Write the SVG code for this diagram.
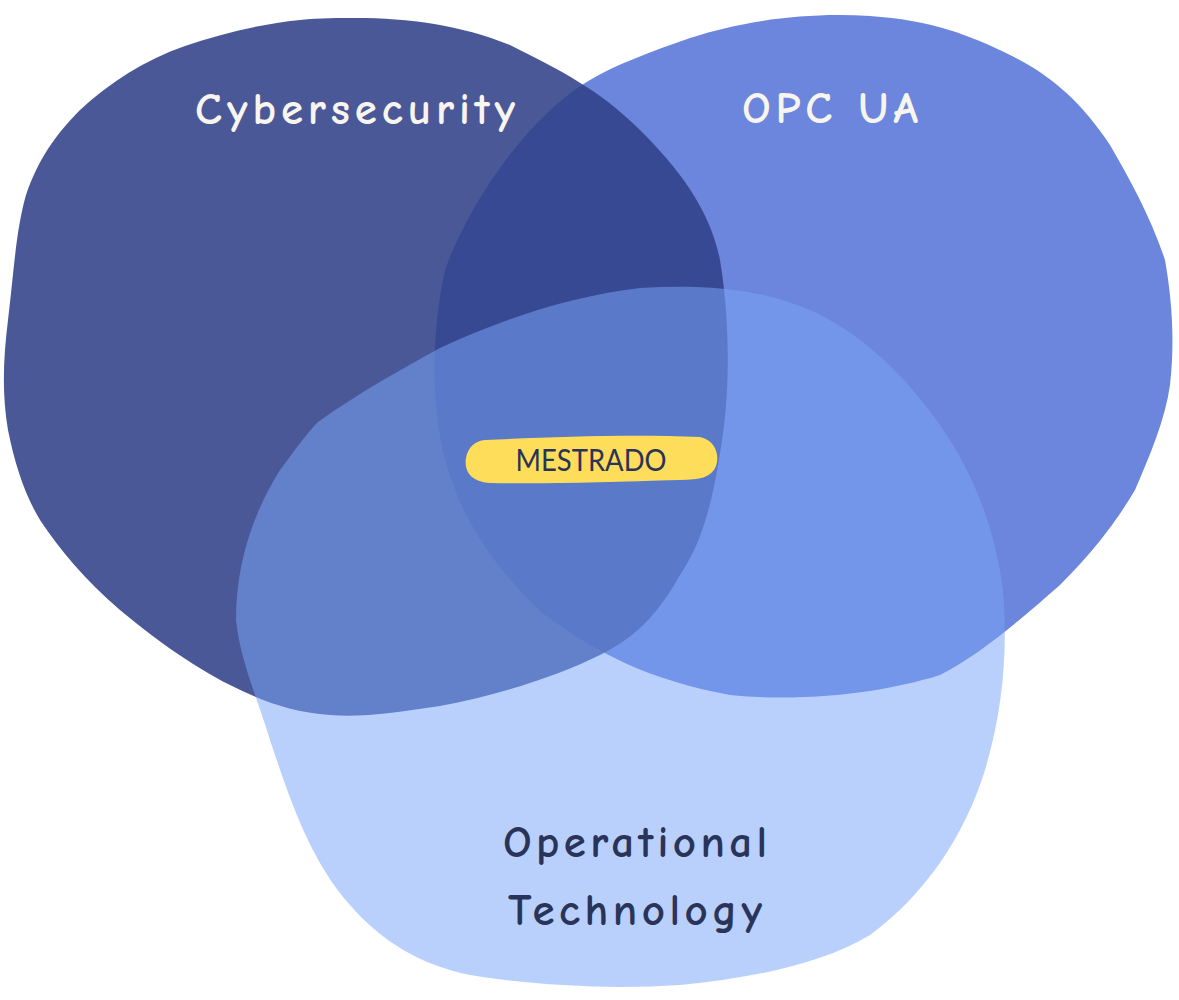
<svg xmlns="http://www.w3.org/2000/svg" width="1179" height="1000" viewBox="0 0 1179 1000">
<style>
.lbl{font-family:"Comic Neue","Noto Sans","DejaVu Sans",sans-serif;font-size:45px;font-weight:bold}
.light{fill:#f8f5ee}
.dark{fill:#2a3358}
.pill{font-family:"Lato","Noto Sans",sans-serif;font-size:30px;fill:#2a3358}
</style>
<rect width="1179" height="1000" fill="#ffffff"/>
<g id="opcua">
<path fill="#6b86dc" d="M590,80 C530,115 470,200 445,270 C432,330 430,400 445,460 C462,520 495,570 545,615 C600,655 650,680 730,695 C800,702 880,694 940,675 C980,655 1020,620 1060,585 C1100,545 1120,515 1135,490 C1150,455 1165,420 1170,385 C1175,340 1172,300 1165,260 C1150,215 1130,180 1110,145 C1080,100 1050,75 1010,55 C970,35 930,20 870,16 C800,12 740,22 690,38 C650,52 615,65 590,80 Z"/>
<text class="lbl light" x="830" y="123" text-anchor="middle" textLength="176" lengthAdjust="spacing">OPC UA</text>
</g>
<g id="cybersecurity">
<path fill="#31418a" fill-opacity="0.88" d="M355,18 C410,18 460,25 510,45 C560,70 600,90 640,130 C680,170 710,210 720,260 C730,320 730,390 722,440 C712,510 700,545 680,575 C660,610 640,635 600,655 C560,675 500,695 440,706 C400,712 360,718 330,715 C290,712 260,700 230,685 C190,665 150,635 120,610 C85,580 60,550 40,520 C25,495 15,465 8,430 C2,395 3,360 8,320 C14,270 16,230 26,195 C38,160 55,135 80,110 C110,82 145,60 185,46 C220,34 260,24 300,20 C320,18 340,18 355,18 Z"/>
<text class="lbl light" x="355" y="124" text-anchor="middle" textLength="320" lengthAdjust="spacing">Cybersecurity</text>
</g>
<g id="operational-technology">
<path fill="#7aa5f9" fill-opacity="0.52" d="M318,422 C360,392 400,370 440,348 C500,320 570,296 640,288 C700,284 760,288 810,310 C860,332 905,375 940,425 C975,475 995,530 1003,590 C1008,650 1003,710 985,770 C965,835 925,895 870,935 C820,965 750,978 680,985 C610,990 530,985 470,975 C420,965 380,940 350,905 C310,860 290,800 270,740 C258,700 240,660 236,620 C236,560 255,510 280,470 C295,450 305,435 318,422 Z"/>
<text class="lbl dark" x="635" y="857" text-anchor="middle" textLength="264" lengthAdjust="spacing">Operational</text>
<text class="lbl dark" x="635" y="925" text-anchor="middle" textLength="254" lengthAdjust="spacing">Technology</text>
</g>
<g id="mestrado">
<path fill="#fedd5a" d="M485,440 C550,437 630,434 700,437 C715,440 720,455 716,466 C712,477 700,480 680,480 C610,482 550,484 490,483 C470,482 464,470 466,458 C468,447 475,441 485,440 Z"/>
<text class="pill" x="591" y="471" text-anchor="middle" textLength="151" lengthAdjust="spacingAndGlyphs">MESTRADO</text>
</g>
<g id="connectors"></g>
</svg>
